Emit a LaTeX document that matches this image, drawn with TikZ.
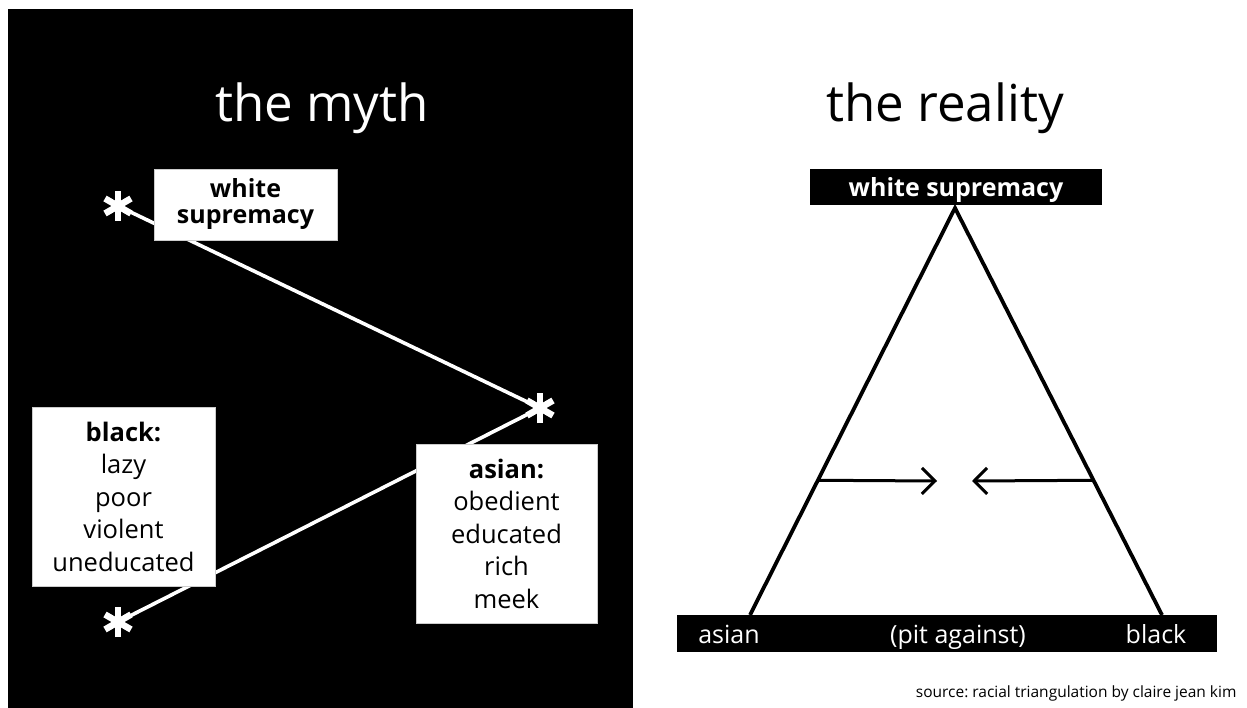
\documentclass[tikz,border=0pt]{standalone}
\usepackage{fontspec}
\setmainfont{Open Sans}
\frenchspacing
\usetikzlibrary{arrows.meta,calc}
\tikzset{
  wline/.style={draw=white, line width=3.6pt},
  wbox/.style={fill=white, draw=black!20, line width=0.8pt, text=black, inner sep=0pt, align=center,
     font=\fontsize{25.5}{32.5}\selectfont},
  bbar/.style={fill=black, inner sep=0pt},
  title/.style={font=\fontsize{51}{56}\selectfont, anchor=base},
  bartext/.style={text=white, font=\fontsize{25}{28}\selectfont, anchor=base},
  tri/.style={draw=black, line width=3.8pt},
  pit/.style={draw=black, line width=3pt, -{Straight Barb[length=13pt, width=26pt]}},
  aster/.pic={\foreach \a in {90,30,150}{\draw[white, line width=6.5pt] (\a:15) -- (\a+180:15);}}
}
\begin{document}
\begin{tikzpicture}[x=1pt,y=-1pt]
\useasboundingbox (0,0) rectangle (1247,708);
\fill[white] (0,0) rectangle (1247,708);
\fill[black] (8,9) rectangle (633,708);

% titles
\node[title, text=white] (myth) at (322,122) {the myth};
\node[title, text=black] (reality) at (945,122) {the reality};

% myth: asterisks and connectors
\coordinate (s1) at (118,206);
\coordinate (s2) at (540,408);
\coordinate (s3) at (118,622);
\draw[wline] (s1) -- (s2);
\draw[wline] (s2) -- (s3);
\pic at (s1) {aster};
\pic at (s2) {aster};
\pic at (s3) {aster};

\node[wbox, minimum width=183pt, minimum height=71pt, font=\fontsize{25}{26}\selectfont\bfseries] (ws) at (245.5,204.5) {white\\supremacy};
\node[wbox, minimum width=183pt, minimum height=179pt] (bk) at (123.5,496.5) {\textbf{black:}\\lazy\\poor\\violent\\uneducated};
\node[wbox, minimum width=181pt, minimum height=179pt] (as) at (506.5,533.5) {\textbf{asian:}\\obedient\\educated\\rich\\meek};

% reality
\node[bbar, minimum width=292pt, minimum height=36pt] (top) at (955.5,187.5) {};
\node[bartext, font=\fontsize{25}{28}\selectfont\bfseries] (toptext) at (956,197) {white supremacy};
\node[bbar, minimum width=540pt, minimum height=37pt] (base) at (947,633.5) {};
\node[bartext] (ta) at (729,643) {asian};
\node[bartext] (tp) at (958,643) {(pit against)};
\node[bartext] (tb) at (1156,643) {black};

\coordinate (apex) at (955,208);
\coordinate (bl) at (750,615);
\coordinate (br) at (1162,615);
\draw[tri, line join=miter] (bl) -- (apex) -- (br);

\coordinate (la) at ($(bl)!0.331!(apex)$);
\coordinate (ra) at ($(br)!0.331!(apex)$);
\coordinate (lt) at (937,481);
\coordinate (rt) at (972,481);
\draw[pit] (la) -- (lt);
\draw[pit] (ra) -- (rt);

\node[anchor=base east, font=\fontsize{15.5}{18}\selectfont] (src) at (1240,697) {source: racial triangulation by claire jean kim};
\end{tikzpicture}
\end{document}
